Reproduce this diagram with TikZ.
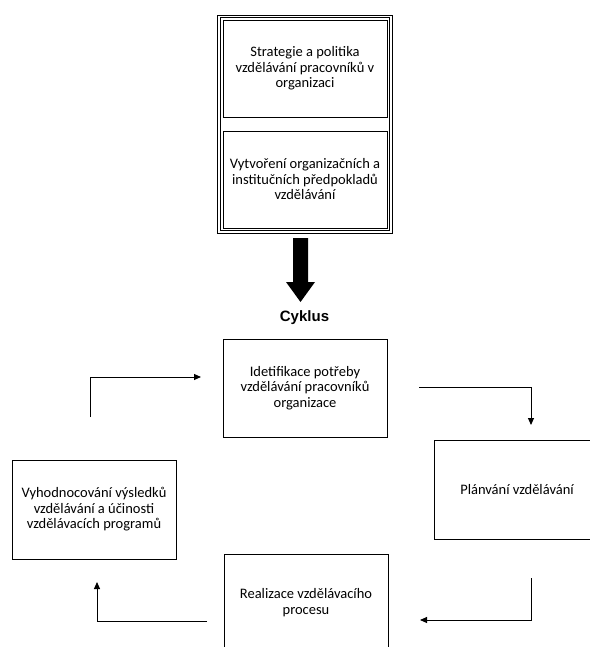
\documentclass[tikz,border=0pt]{standalone}
\usepackage{fontspec}
\setmainfont{Carlito}
\newfontfamily\cyklfont{Liberation Sans}
\usetikzlibrary{arrows.meta}
\tikzset{
  box/.style={draw=black, line width=0.9pt, align=center, font=\fontsize{14.5}{15.5}\selectfont, inner sep=0pt},
  conn/.style={draw=black, line width=1pt, -{Triangle[length=7pt,width=6pt]}},
}
\begin{document}
\begin{tikzpicture}[x=1pt,y=-1pt]
\useasboundingbox (0,0) rectangle (589,647);
\fill[white] (0,0) rectangle (589,647);
% double frame
\draw[line width=0.9pt] (217.5,15) rectangle (392,233);
\draw[line width=0.9pt] (220,17.5) rectangle (389.5,230.5);
% top boxes
\node[box, minimum width=164pt, minimum height=97pt] (strat) at (305,68.5) {Strategie a politika\\vzdělávání pracovníků v\\organizaci};
\node[box, minimum width=164pt, minimum height=97pt] (vytv) at (305,179.5) {Vytvoření organizačních a\\institučních předpokladů\\vzdělávání};
% big arrow
\fill[black] (293,238) -- (308,238) -- (308,282) -- (315,282) -- (300.5,302) -- (286,282) -- (293,282) -- cycle;
\coordinate (bigtip) at (300.5,302);
\node[font=\cyklfont\bfseries\fontsize{15}{18}\selectfont] (cyk) at (304.5,317.5) {Cyklus};
% cycle boxes
\node[box, minimum width=164pt, minimum height=98pt] (ident) at (305,388) {Idetifikace potřeby\\vzdělávání pracovníků\\organizace};
\node[box, minimum width=166pt, minimum height=99pt] (plan) at (517,490) {Plánvání vzdělávání};
\node[box, minimum width=164pt, minimum height=99pt] (vyh) at (94,509.5) {Vyhodnocování výsledků\\vzdělávání a účinosti\\vzdělávacích programů};
\node[box, minimum width=164pt, minimum height=97pt] (real) at (306,602.5) {Realizace vzdělávacího\\procesu};
% connectors
\coordinate (a1) at (419,387);
\coordinate (a1e) at (531,425);
\draw[conn] (a1) -| (a1e);
\coordinate (a2) at (531,578);
\coordinate (a2e) at (420,620);
\draw[conn] (a2) |- (a2e);
\coordinate (a3) at (207,621);
\coordinate (a3e) at (97,582);
\draw[conn] (a3) -| (a3e);
\coordinate (a4) at (90,417);
\coordinate (a4e) at (201,377);
\draw[conn] (a4) |- (a4e);
\end{tikzpicture}
\end{document}
